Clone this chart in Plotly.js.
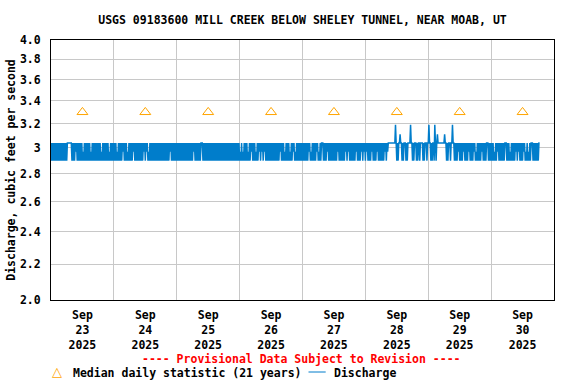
<!DOCTYPE html>
<html>
<head>
<meta charset="utf-8">
<script src="https://cdn.plot.ly/plotly-3.0.1.min.js"></script>
<style>
  html, body { margin: 0; padding: 0; background: #fff; }
  #chart { width: 576px; height: 384px; }
</style>
</head>
<body>
<div id="chart"></div>
<script>
// ---- data ----
const chartTitle = 'USGS 09183600 MILL CREEK BELOW SHELEY TUNNEL, NEAR MOAB, UT';
const yAxisTitle = 'Discharge, cubic feet per second';

// 15-minute discharge readings, encoded per day as level indices (one char per reading)
const dischargeLevels = [2.90, 2.97, 3.04, 3.19, 3.11];
const dischargeStartUTC = Date.UTC(2025, 8, 23, 0, 0);
const dischargeStepMinutes = 15;
const dischargeCodesByDay = [
  "0202 0202 0202 0202 0202 0202 0222 2222 0202 0212 0202 0202 0102 0202 0202 0102 0202 0202 0202 0102 0202 0202 0102 0202", // Sep 23
  "0202 0102 0202 0212 0202 0102 0202 0212 0202 0202 0202 0212 0212 0102 0202 0202 0202 0202 0202 0202 0202 0212 0202 0202", // Sep 24
  "0202 0202 0202 0202 0202 0202 0212 0202 0202 0222 0202 0202 0202 0202 0202 0202 0202 0202 0202 0202 0202 0202 0202 0202", // Sep 25
  "0102 0102 0202 0102 0212 0202 0102 0212 0212 0212 0202 0202 0202 0202 0202 0212 0202 0102 0202 0102 0212 0102 0202 0202", // Sep 26
  "0202 0202 0212 0102 0202 0212 0102 0222 0202 0212 0202 0202 0202 0212 0202 0202 0212 0212 0202 0202 0212 0202 0212 0212", // Sep 27
  "0212 0202 0212 0202 0212 0202 0202 0212 0212 2222 2222 2232 0202 2422 0202 2202 0222 2322 0202 2202 0220 2222 0202 2202", // Sep 28
  "2322 0202 2032 0242 2222 2222 2422 0202 2202 2322 0202 0212 0202 0212 0202 0212 0202 0212 0102 0202 0212 0202 0222 0202", // Sep 29
  "0202 0102 0212 0202 0202 0222 0202 0102 0202 0212 0212 0202 0212 0102 0102 0222 0202 0202 022"                          // Sep 30
];

// median daily statistic (21 years), plotted at noon of each day
const medianDates = ['2025-09-23 12:00', '2025-09-24 12:00', '2025-09-25 12:00', '2025-09-26 12:00',
                     '2025-09-27 12:00', '2025-09-28 12:00', '2025-09-29 12:00', '2025-09-30 12:00'];
const medianValues = [3.3, 3.3, 3.3, 3.3, 3.3, 3.3, 3.3, 3.3];

// axis ticks
const xTickDates = medianDates;
const xTickLabels = ['Sep<br>23<br>2025', 'Sep<br>24<br>2025', 'Sep<br>25<br>2025', 'Sep<br>26<br>2025',
                     'Sep<br>27<br>2025', 'Sep<br>28<br>2025', 'Sep<br>29<br>2025', 'Sep<br>30<br>2025'];
const xRange = ['2025-09-23 00:00', '2025-10-01 00:00'];
const yTickValues = [2.0, 2.2, 2.4, 2.6, 2.8, 3.0, 3.2, 3.4, 3.6, 3.8, 4.0];
const yTickLabels = ['2.0', '2.2', '2.4', '2.6', '2.8', '3', '3.2', '3.4', '3.6', '3.8', '4.0'];
const yRange = [2.0, 4.0];

// ---- build traces ----
const codes = dischargeCodesByDay.join('').replace(/\s+/g, '').split('');
function stamp(i) {
  const d = new Date(dischargeStartUTC + i * dischargeStepMinutes * 60000);
  return d.toISOString().slice(0, 16).replace('T', ' ');
}
const dischargeX = codes.map((c, i) => stamp(i));
const dischargeY = codes.map(c => dischargeLevels[Number(c)]);

const FONT = 'DejaVu Sans Mono, Liberation Mono, monospace';
const baseFont = { family: FONT, size: 11.5, color: '#000', weight: 'bold' };
const BLUE = '#007dcb';
const ORANGE = '#ffa500';

const traces = [
  {
    type: 'scatter', mode: 'lines', name: 'Discharge',
    x: dischargeX, y: dischargeY,
    line: { color: BLUE, width: 1.5, simplify: false },
    showlegend: false, hoverinfo: 'skip'
  },
  {
    type: 'scatter', mode: 'markers', name: 'Median daily statistic (21 years)',
    x: medianDates, y: medianValues,
    marker: { symbol: 'triangle-up-open', size: 9.5, color: ORANGE, line: { color: ORANGE, width: 1 } },
    showlegend: false, hoverinfo: 'skip'
  }
];

const plotLeft = 51, plotRight = 554, plotTop = 40, plotBottom = 300;
const pw = plotRight - plotLeft, ph = plotBottom - plotTop;
const px = x => (x - plotLeft) / pw;
const py = y => (plotBottom - y) / ph;

const layout = {
  width: 576, height: 384,
  margin: { l: plotLeft, r: 576 - plotRight, t: plotTop, b: 384 - plotBottom, pad: 0 },
  paper_bgcolor: '#fff', plot_bgcolor: '#fff',
  showlegend: false,
  title: {
    text: chartTitle, font: baseFont,
    xref: 'paper', x: 0.5, xanchor: 'center',
    yref: 'container', y: 1 - 20 / 384, yanchor: 'middle'
  },
  xaxis: {
    type: 'date', range: xRange, fixedrange: true,
    tickmode: 'array', tickvals: xTickDates, ticktext: xTickLabels,
    tickfont: baseFont, ticks: '', ticklabelstandoff: 4,
    showgrid: false, zeroline: false,
    showline: true, mirror: true, linecolor: '#000', linewidth: 1,
    minor: { tick0: '2025-09-23 00:00', dtick: 86400000, showgrid: true, gridcolor: '#c8c8c8', gridwidth: 1, ticks: '' }
  },
  yaxis: {
    type: 'log', range: [Math.log10(yRange[0]), Math.log10(yRange[1])], fixedrange: true,
    tickmode: 'array', tickvals: yTickValues, ticktext: yTickLabels,
    tickfont: baseFont, ticks: '', ticklabelstandoff: 7,
    showgrid: true, gridcolor: '#c8c8c8', gridwidth: 1, zeroline: false,
    showline: true, mirror: true, linecolor: '#000', linewidth: 1,
    title: { text: yAxisTitle, font: baseFont, standoff: 1 }
  },
  annotations: [
    { text: '---- Provisional Data Subject to Revision ----', xref: 'paper', yref: 'paper',
      x: px(301), y: py(359), xanchor: 'center', yanchor: 'middle', showarrow: false,
      font: { family: FONT, size: 11.5, color: '#ff0000', weight: 'bold' } },
    { text: '△', xref: 'paper', yref: 'paper', x: px(56.7), y: py(371.5), xanchor: 'center', yanchor: 'middle',
      showarrow: false, font: { family: 'DejaVu Sans, sans-serif', size: 13, color: ORANGE } },
    { text: 'Median daily statistic (21 years)', xref: 'paper', yref: 'paper',
      x: px(70.5), y: py(372.5), xanchor: 'left', yanchor: 'middle', showarrow: false, font: baseFont },
    { text: 'Discharge', xref: 'paper', yref: 'paper',
      x: px(331.5), y: py(372.5), xanchor: 'left', yanchor: 'middle', showarrow: false, font: baseFont }
  ],
  shapes: [
    { type: 'line', xref: 'paper', yref: 'paper', x0: px(308.5), x1: px(325.7), y0: py(372), y1: py(372),
      line: { color: BLUE, width: 1 } }
  ]
};

Plotly.newPlot('chart', traces, layout, { staticPlot: true, displayModeBar: false });
</script>
</body>
</html>
